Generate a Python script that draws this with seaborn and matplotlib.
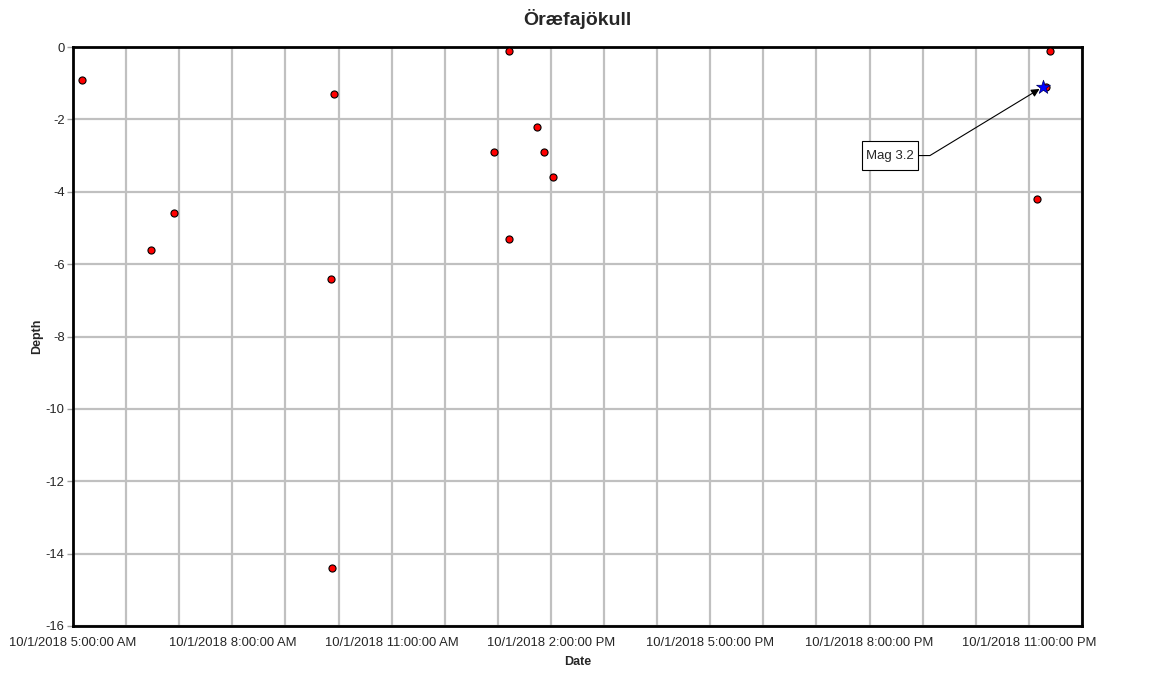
import matplotlib
matplotlib.use("Agg")
import matplotlib.pyplot as plt
import matplotlib.dates as mdates
from matplotlib.path import Path
from matplotlib.ticker import FuncFormatter, MultipleLocator
import seaborn as sns
import pandas as pd

# ---- data ----
times = ["05:10", "06:28", "06:54", "09:52", "09:53", "09:55", "12:56", "13:13",
         "13:13", "13:44", "13:52", "14:02", "23:09", "23:19", "23:24"]
depths = [-0.9, -5.6, -4.6, -6.4, -14.4, -1.3, -2.9, -0.1,
          -5.3, -2.2, -2.9, -3.6, -4.2, -1.1, -0.1]
big_time = ["23:16"]
big_depth = [-1.1]
big_label = "Mag 3.2"
label_time = "20:23"
label_depth = -3.0
title = "Öræfajökull"
date = "2018-10-01"

df = pd.DataFrame({"Date": pd.to_datetime([f"{date} {t}" for t in times]),
                   "Depth": depths})
dbig = pd.DataFrame({"Date": pd.to_datetime([f"{date} {t}" for t in big_time]),
                     "Depth": big_depth})

sns.set_style("white")
plt.rcParams['font.family'] = ['Liberation Sans', 'DejaVu Sans']
plt.rcParams['axes.unicode_minus'] = False

fig = plt.figure(figsize=(11.65, 6.74), dpi=100)
ax = fig.add_axes([73/1165, 1-626/674, (1082-73)/1165, (626-47)/674])

sns.scatterplot(data=df, x="Date", y="Depth", ax=ax, color="#ff0000",
                edgecolor="black", linewidth=0.8, s=26, zorder=3)
sns.scatterplot(data=dbig, x="Date", y="Depth", ax=ax, color="#0000ff",
                marker="*", edgecolor="#000060", linewidth=0.5, s=110, zorder=4)

xmin = pd.Timestamp(f"{date} 05:00")
xmax = pd.Timestamp(f"{date} 05:00") + pd.Timedelta(hours=19)
ax.set_xlim(xmin, xmax)
ax.set_ylim(-16, 0)

ax.xaxis.set_major_locator(mdates.HourLocator(byhour=range(2, 24, 3)))
ax.xaxis.set_minor_locator(mdates.HourLocator())

def fmt(x, pos):
    d = mdates.num2date(x)
    h = d.hour % 12
    if h == 0:
        h = 12
    ap = "AM" if d.hour < 12 else "PM"
    return f"{d.month}/{d.day}/{d.year} {h}:{d.minute:02d}:00 {ap}"

ax.xaxis.set_major_formatter(FuncFormatter(fmt))
ax.yaxis.set_major_locator(MultipleLocator(2))

ax.grid(True, which="both", axis="x", color="#c0c0c0", linewidth=1.6, zorder=0)
ax.grid(True, which="major", axis="y", color="#c0c0c0", linewidth=1.6, zorder=0)
ax.set_axisbelow(True)

for sp in ax.spines.values():
    sp.set_color("black")
    sp.set_linewidth(2)
    sp.set_visible(True)

ax.tick_params(axis="x", which="both", length=0, pad=8, labelsize=9.4)
ax.tick_params(axis="y", which="major", length=4, color="#a0a0a0", width=1,
               left=True, pad=2, labelsize=9.4)

ax.set_xlabel("Date", fontsize=9, fontweight="bold", labelpad=5)
ax.set_ylabel("Depth", fontsize=9, fontweight="bold", labelpad=2)
ax.set_title(title, fontsize=14, fontweight="bold", pad=16)


def label_box(x0, y0, width, height, mutation_size):
    px = 0.3 * mutation_size
    py = 0.62 * mutation_size
    x0, y0 = x0 - px, y0 - py
    x1, y1 = x0 + width + 2 * px, y0 + height + 2 * py
    return Path([(x0, y0), (x1, y0), (x1, y1), (x0, y1), (x0, y0)], closed=True)


ax.annotate(big_label,
            xy=(dbig["Date"].iloc[0], big_depth[0]),
            xytext=(pd.Timestamp(f"{date} {label_time}"), label_depth),
            textcoords="data", ha="center", va="center", fontsize=9.5,
            bbox=dict(boxstyle=label_box, fc="white", ec="black", lw=0.8),
            arrowprops=dict(arrowstyle="-|>", color="black", lw=0.8,
                            connectionstyle="arc,angleA=0,angleB=0,armA=40,armB=0,rad=0",
                            mutation_scale=12, shrinkA=0, shrinkB=3),
            zorder=5)

fig.savefig("out.png", dpi=100)
